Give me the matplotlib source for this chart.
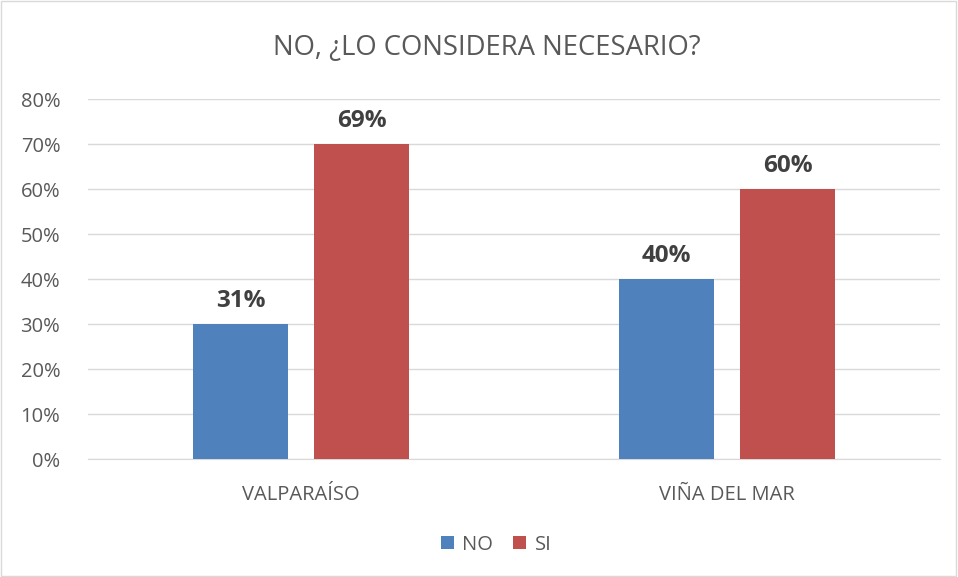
import matplotlib.pyplot as plt
from matplotlib.patches import Rectangle
import numpy as np

categorias = ["VALPARAÍSO", "VIÑA DEL MAR"]
no_vals = [0.30, 0.40]
si_vals = [0.70, 0.60]
no_labels = ["31%", "40%"]
si_labels = ["69%", "60%"]
yticks = [0, 0.1, 0.2, 0.3, 0.4, 0.5, 0.6, 0.7, 0.8]

plt.rcParams['font.family'] = ['Open Sans', 'DejaVu Sans']
gris = "#595959"

fig = plt.figure(figsize=(9.58, 5.77), dpi=100)
ax = fig.add_axes([0.0919, 0.2045, 0.8893, 0.6239])

x = np.arange(len(categorias))
w = 0.225
off = 0.142
b1 = ax.bar(x - off, no_vals, w, color="#4F81BD", label="NO", zorder=3)
b2 = ax.bar(x + off, si_vals, w, color="#C0504D", label="SI", zorder=3)

for bars, labs in ((b1, no_labels), (b2, si_labels)):
    for b, t in zip(bars, labs):
        ax.text(b.get_x() + b.get_width() / 2, b.get_height() + 0.024, t,
                ha="center", va="bottom", fontsize=17.5, fontweight="bold",
                color="#404040")

ax.set_xlim(-0.5, 1.5)
ax.set_ylim(0, 0.8)
ax.set_yticks(yticks)
ax.set_yticklabels([f"{int(round(v*100))}%" for v in yticks])
ax.set_xticks(x)
ax.set_xticklabels(categorias)
ax.tick_params(axis="both", length=0, labelsize=14.5, colors=gris)
ax.tick_params(axis="x", pad=19)
ax.tick_params(axis="y", pad=20)
ax.grid(axis="y", color="#D9D9D9", linewidth=1, zorder=0)
for s in ["top", "right", "left"]:
    ax.spines[s].set_visible(False)
ax.spines["bottom"].set_color("#D9D9D9")

fig.text(0.508, 0.918, "NO, ¿LO CONSIDERA NECESARIO?", ha="center", va="center",
         fontsize=19.8, color=gris)

fig.legend(handles=[b1, b2], labels=["NO", "SI"], loc="center",
           bbox_to_anchor=(0.518, 0.056), ncol=2, frameon=False, fontsize=14.5,
           handlelength=0.65, handleheight=0.65, handletextpad=0.4,
           columnspacing=1.0, labelcolor=gris)

fig.patches.append(Rectangle((0.001, 0.001), 0.997, 0.997, transform=fig.transFigure,
                             fill=False, edgecolor="#D9D9D9", linewidth=1))

fig.savefig("out.png", dpi=100)
